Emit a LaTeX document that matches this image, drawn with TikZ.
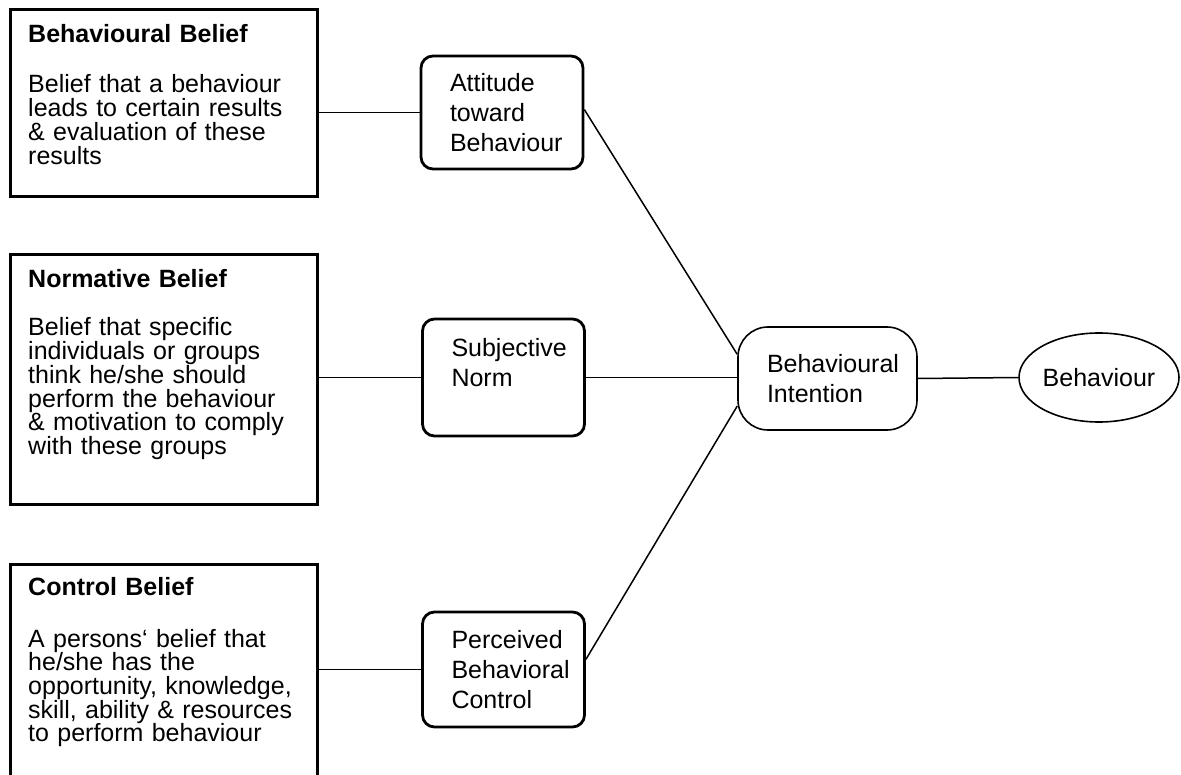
\documentclass[tikz,border=0pt]{standalone}
\usepackage{fontspec}
\setmainfont{Liberation Sans}
\usetikzlibrary{shapes.geometric}
\setlength{\lineskiplimit}{-20pt}
\begin{document}
\begin{tikzpicture}[x=1pt, y=-1pt,
	belief/.style={draw, line width=2.8pt, minimum width=307pt, anchor=north west, inner sep=0pt},
	btext/.style={anchor=base west, align=left, text width=285pt, inner sep=0pt, font=\fontsize{25}{23.7}\selectfont},
	construct/.style={draw, line width=2.8pt, rounded corners=12pt, minimum width=162pt, text width=104pt, inner xsep=29pt, inner ysep=0pt, align=left, font=\fontsize{25}{30}\selectfont},
	link/.style={line width=1.5pt}]
		\useasboundingbox (0,0) rectangle (1181,775);
		\clip (0,0) rectangle (1181,775);
		\node[belief, minimum height=187pt] (bb) at (9,8) {};
		\node[belief, minimum height=250pt] (nb) at (9,253) {};
		\node[belief, minimum height=260pt] (cb) at (9,563) {};
		\node[btext] (bbt) at (28,43) {\textbf{Behavioural Belief}\\[26.3pt]Belief that a behaviour\\leads to certain results\\\& evaluation of these\\results};
		\node[btext] (nbt) at (28,288) {\textbf{Normative Belief}\\[24.3pt]Belief that specific\\individuals or groups\\think he/she should\\perform the behaviour\\\& motivation to comply\\with these groups};
		\node[btext] (cbt) at (28,595) {\textbf{Control Belief}\\[28.3pt]A persons‘ belief that\\he/she has the\\opportunity, knowledge,\\skill, ability \& resources\\to perform behaviour};
		\node[construct, minimum height=113pt] (att) at (502,112.5) {Attitude\\toward\\Behaviour};
		\node[construct, minimum height=117pt] (sn) at (503.5,377.5) {Subjective\\Norm\\\mbox{}};
		\node[construct, minimum height=115pt] (pbc) at (503.5,669.5) {Perceived\\Behavioral\\Control};
		\node[draw, line width=1.6pt, rounded corners=30pt, minimum width=179pt, minimum height=103pt, text width=121pt, inner xsep=29pt, align=left, font=\fontsize{25}{30}\selectfont] (bi) at (827.5,378.5) {Behavioural\\Intention};
		\node[draw, ellipse, line width=1.6pt, minimum width=160pt, minimum height=89pt, inner sep=0pt, font=\fontsize{25}{30}\selectfont] (beh) at (1099,377.5) {Behaviour};
		\draw[link] (bb.east |- att.west) -- (att.west);
		\draw[link] (nb.east |- sn.west) -- (sn.west);
		\draw[link] (cb.east |- pbc.west) -- (pbc.west);
		\draw[link] (att.2) -- (bi.165);
		\draw[link] (sn.east) -- (sn.east -| bi.west);
		\draw[link] (pbc.7) -- (bi.197);
		\draw[link] (bi.east) -- (beh.west);
\end{tikzpicture}
\end{document}
